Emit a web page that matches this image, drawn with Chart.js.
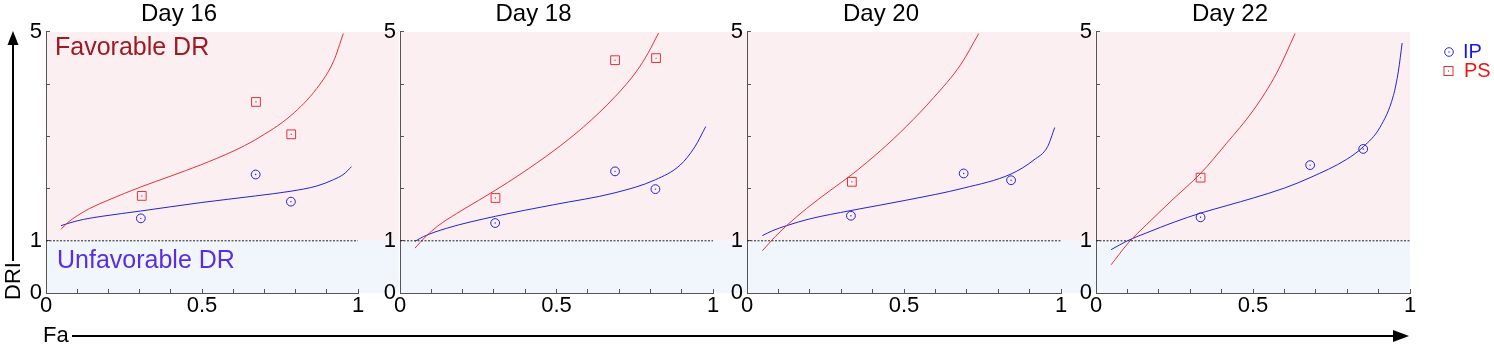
<!DOCTYPE html>
<html><head><meta charset="utf-8">
<script src="https://cdn.jsdelivr.net/npm/chart.js@4.4.1/dist/chart.umd.min.js"></script>
<style>
html,body{margin:0;padding:0;background:#fff;width:1494px;height:352px;overflow:hidden;}
#wrap{position:relative;width:1494px;height:352px;}
canvas{position:absolute;top:0;}
svg{position:absolute;left:0;top:0;}
</style></head><body>
<div id="wrap">
<canvas id="c0" width="422" height="352" style="left:0px"></canvas>
<canvas id="c1" width="422" height="352" style="left:354px"></canvas>
<canvas id="c2" width="422" height="352" style="left:701px"></canvas>
<canvas id="c3" width="422" height="352" style="left:1050px"></canvas>
<svg width="1494" height="352" font-family="Liberation Sans, Arial, sans-serif">
  <line x1="13" y1="261" x2="13" y2="42" stroke="#000" stroke-width="2"/>
  <polygon points="13,31 7.5,45 18.5,45" fill="#000"/>
  <text transform="translate(20,300) rotate(-90)" font-size="22" fill="#000">DRI</text>
  <text x="43" y="342" font-size="22" fill="#000">Fa</text>
  <line x1="72" y1="336" x2="1396" y2="336" stroke="#000" stroke-width="2"/>
  <polygon points="1409,336 1393,330 1393,342" fill="#000"/>
  <text x="55" y="55" font-size="25" fill="#9e1a22">Favorable DR</text>
  <text x="57" y="268" font-size="25" fill="#5a2ee0">Unfavorable DR</text>
  <circle cx="1449" cy="52" r="4.3" fill="none" stroke="#2828e0" stroke-width="1"/>
  <circle cx="1449" cy="52" r="0.7" fill="#2828e0"/>
  <text x="1463" y="58" font-size="20" fill="#1515f0">IP</text>
  <rect x="1444" y="66.5" width="9" height="9" fill="none" stroke="#e03030" stroke-width="1"/>
  <circle cx="1448.5" cy="71" r="0.7" fill="#e03030"/>
  <text x="1464" y="77" font-size="20" fill="#f01515">PS</text>
</svg>
</div>
<script>
const FONT = "'Liberation Sans', Arial, sans-serif";
const days = ['Day 16', 'Day 18', 'Day 20', 'Day 22'];
const xTickLabels = [0, 0.5, 1];
const yTickLabels = [0, 1, 5];
const thresholdDri = 1;

// measured points (Fa, DRI)
const ipFa  = [[0.304, 0.672, 0.785], [0.304, 0.687, 0.816], [0.331, 0.690, 0.841], [0.333, 0.682, 0.851]];
const ipDri = [[1.43, 2.27, 1.75], [1.34, 2.33, 1.99], [1.48, 2.29, 2.16], [1.45, 2.45, 2.76]];
const psFa  = [[0.307, 0.673, 0.786], [0.305, 0.687, 0.818], [0.334], [0.333]];
const psDri = [[1.86, 3.66, 3.04], [1.82, 4.46, 4.50], [2.13], [2.21]];

// fitted curves
const psCurveFa = [
  [0.048, 0.07, 0.10, 0.14, 0.20, 0.303, 0.40, 0.494, 0.601, 0.672, 0.785, 0.868, 0.921, 0.953],
  [0.048, 0.08, 0.12, 0.18, 0.25, 0.305, 0.383, 0.49, 0.586, 0.687, 0.756, 0.793, 0.826],
  [0.049, 0.09, 0.126, 0.19, 0.264, 0.334, 0.424, 0.509, 0.594, 0.68, 0.738],
  [0.048, 0.103, 0.161, 0.246, 0.333, 0.416, 0.501, 0.575, 0.634]
];
const psCurveDri = [
  [1.22, 1.35, 1.48, 1.62, 1.78, 2.03, 2.24, 2.45, 2.72, 2.94, 3.40, 3.92, 4.43, 4.97],
  [0.86, 1.07, 1.28, 1.52, 1.77, 1.97, 2.27, 2.72, 3.18, 3.76, 4.25, 4.60, 4.98],
  [0.81, 1.08, 1.29, 1.62, 1.96, 2.27, 2.72, 3.20, 3.74, 4.37, 4.97],
  [0.54, 0.96, 1.31, 1.80, 2.29, 2.87, 3.50, 4.21, 4.97]
];
const ipCurveFa = [
  [0.048, 0.08, 0.12, 0.18, 0.303, 0.494, 0.672, 0.785, 0.868, 0.921, 0.955, 0.979],
  [0.048, 0.075, 0.149, 0.305, 0.49, 0.687, 0.816, 0.895, 0.942, 0.977],
  [0.049, 0.08, 0.126, 0.20, 0.331, 0.509, 0.69, 0.841, 0.914, 0.957, 0.98],
  [0.048, 0.10, 0.16, 0.25, 0.333, 0.42, 0.501, 0.60, 0.682, 0.798, 0.851, 0.904, 0.947, 0.963, 0.975]
];
const ipCurveDri = [
  [1.29, 1.35, 1.41, 1.47, 1.57, 1.73, 1.86, 1.95, 2.05, 2.17, 2.28, 2.42],
  [0.99, 1.08, 1.24, 1.47, 1.69, 1.92, 2.17, 2.45, 2.80, 3.19],
  [1.10, 1.19, 1.29, 1.42, 1.58, 1.78, 2.01, 2.28, 2.55, 2.80, 3.17],
  [0.83, 1.00, 1.15, 1.36, 1.53, 1.68, 1.82, 2.01, 2.21, 2.56, 2.80, 3.17, 3.78, 4.25, 4.79]
];

// layout / style (not data)
const plotWidth = [312, 313, 314, 314];
const bandRight = [1.13, 1.11, 1.11, 1.0];
const RED = '#e2323c', BLUE = '#2424d2', AXIS = '#555555';

const zip = (xs, ys) => xs.map((x, k) => ({x, y: ys[k]}));

const bandPlugin = {
  id: 'bands',
  beforeDraw(chart, args, opts) {
    const {ctx, scales: {x, y}} = chart;
    const x0 = x.getPixelForValue(0), x1 = x.getPixelForValue(opts.right);
    const yTop = y.getPixelForValue(y.max), yMid = y.getPixelForValue(thresholdDri), yBot = y.getPixelForValue(y.min);
    ctx.save();
    ctx.fillStyle = '#fbeff2';
    ctx.fillRect(x0, yTop, x1 - x0, yMid - yTop);
    ctx.fillStyle = '#f1f6fc';
    ctx.fillRect(x0, yMid, x1 - x0, yBot - yMid);
    ctx.restore();
  }
};

const near = (arr, v) => arr.some(t => Math.abs(t - v) < 1e-9);

for (let i = 0; i < 4; i++) {
  new Chart(document.getElementById('c' + i), {
    type: 'scatter',
    data: {
      datasets: [
        { label: 'DRI = 1', data: [{x: 0, y: thresholdDri}, {x: 1, y: thresholdDri}], showLine: true,
          borderColor: '#222', borderWidth: 1, borderDash: [2, 1.5], pointRadius: 0 },
        { label: 'PS fit', data: zip(psCurveFa[i], psCurveDri[i]), showLine: true, borderColor: RED,
          borderWidth: 1, pointRadius: 0, cubicInterpolationMode: 'monotone' },
        { label: 'IP fit', data: zip(ipCurveFa[i], ipCurveDri[i]), showLine: true, borderColor: BLUE,
          borderWidth: 1, pointRadius: 0, cubicInterpolationMode: 'monotone' },
        { label: 'PS', data: zip(psFa[i], psDri[i]), pointStyle: 'rect', pointRadius: 6.2,
          borderColor: RED, backgroundColor: 'rgba(0,0,0,0)', borderWidth: 1 },
        { label: 'PS c', data: zip(psFa[i], psDri[i]), pointStyle: 'circle', pointRadius: 0.7,
          borderWidth: 0, backgroundColor: RED },
        { label: 'IP', data: zip(ipFa[i], ipDri[i]), pointStyle: 'circle', pointRadius: 4.4,
          borderColor: BLUE, backgroundColor: 'rgba(0,0,0,0)', borderWidth: 1 },
        { label: 'IP c', data: zip(ipFa[i], ipDri[i]), pointStyle: 'circle', pointRadius: 0.7,
          borderWidth: 0, backgroundColor: BLUE }
      ]
    },
    options: {
      responsive: false, animation: false, devicePixelRatio: 1, events: [],
      layout: { padding: { left: 0, right: 422 - 46 - plotWidth[i], top: 0, bottom: 0 } },
      plugins: {
        legend: { display: false }, tooltip: { enabled: false },
        title: { display: true, text: days[i], color: '#000',
          font: { family: FONT, size: 24, weight: 'normal', lineHeight: 1.2 },
          padding: { top: 0, bottom: 3.2 } },
        bands: { right: bandRight[i] }
      },
      scales: {
        x: {
          type: 'linear', min: 0, max: 1, position: 'bottom',
          afterFit(s) { s.height = 59; },
          border: { color: AXIS, width: 1 },
          grid: { drawOnChartArea: false, drawTicks: true, tickLength: -4, color: AXIS, lineWidth: 1 },
          ticks: { stepSize: 0.1, autoSkip: false, maxRotation: 0, color: '#000', padding: 4,
            font: { family: FONT, size: 22 },
            callback: v => near(xTickLabels, v) ? String(v) : '' }
        },
        y: {
          type: 'linear', min: 0, max: 5, position: 'left',
          afterFit(s) { s.width = 46; },
          border: { color: AXIS, width: 1 },
          grid: { drawOnChartArea: false, drawTicks: true, tickLength: -4, color: AXIS, lineWidth: 1 },
          ticks: { stepSize: 1, color: '#000', padding: 8, font: { family: FONT, size: 22 },
            callback: v => near(yTickLabels, v) ? String(v) : '' }
        }
      }
    },
    plugins: [bandPlugin]
  });
}
</script>
</body></html>
